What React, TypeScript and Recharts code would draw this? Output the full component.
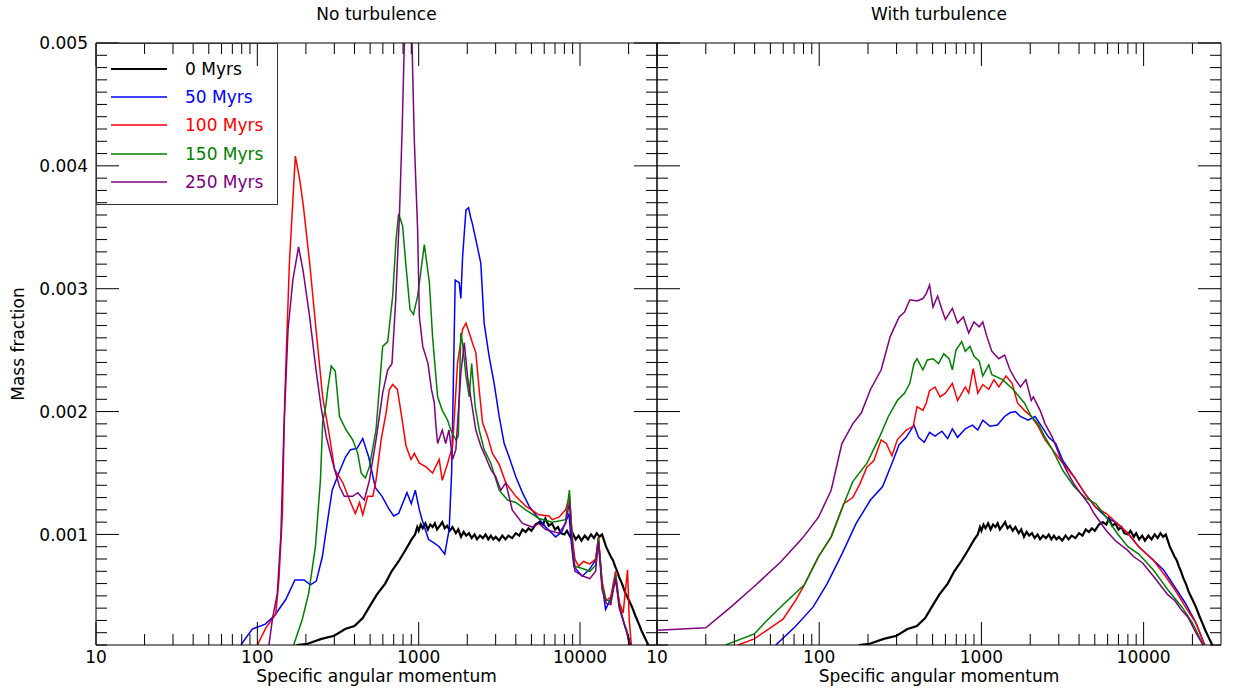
import React from 'react';
import { LineChart, Line, XAxis, YAxis, Legend } from 'recharts';

type Pt = [number, number];

// x = specific angular momentum, y = mass fraction in units of 1e-3
const black0: Pt[] = [
  [175, 0.10], [205, 0.11], [250, 0.15], [300, 0.175], [350, 0.23], [400, 0.255], [450, 0.32],
  [500, 0.42], [550, 0.51], [620, 0.60], [680, 0.70], [750, 0.78], [830, 0.875], [900, 0.955],
  [950, 1.0], [980, 1.06], [1000, 1.03], [1030, 1.08], [1060, 1.05], [1100, 1.09], [1140, 1.04],
  [1180, 1.08], [1220, 1.06], [1260, 1.09], [1300, 1.04], [1350, 1.07], [1400, 1.10], [1450, 1.05],
  [1500, 1.07], [1560, 1.03], [1620, 1.06], [1700, 1.01], [1760, 1.04], [1830, 0.98], [1900, 1.02],
  [1970, 0.99], [2050, 1.01], [2130, 0.97], [2220, 1.0], [2300, 0.96], [2400, 0.99], [2500, 0.97],
  [2600, 1.0], [2700, 0.96], [2800, 0.99], [2900, 0.96], [3000, 0.98], [3150, 0.95], [3300, 0.99],
  [3450, 0.96], [3600, 0.99], [3800, 0.97], [4000, 1.01], [4200, 0.99], [4400, 1.04], [4600, 1.02],
  [4800, 1.05], [5000, 1.03], [5300, 1.08], [5600, 1.10], [5900, 1.08], [6100, 1.13], [6400, 1.07],
  [6700, 1.09], [7000, 1.04], [7300, 1.06], [7600, 1.01], [8000, 1.0], [8300, 1.03], [8700, 0.98],
  [9000, 1.01], [9400, 0.96], [9800, 0.99], [10200, 0.95], [10700, 0.99], [11200, 0.96], [11700, 1.0],
  [12200, 0.97], [12700, 1.01], [13200, 0.98], [13700, 1.0], [14100, 0.95], [14500, 0.90], [15000, 0.86],
  [15500, 0.82], [16000, 0.79], [16500, 0.74], [17000, 0.70], [17500, 0.65], [18200, 0.60], [19000, 0.53],
  [20000, 0.47], [21000, 0.41], [22000, 0.34], [23000, 0.28], [24000, 0.22], [25000, 0.17], [26500, 0.10],
];

const noTurb50: Pt[] = [
  [79, 0.10], [93, 0.23], [112, 0.27], [128, 0.34], [150, 0.47], [171, 0.63], [195, 0.63], [213, 0.59],
  [232, 0.62], [253, 0.82], [271, 1.09], [291, 1.36], [320, 1.50], [352, 1.63], [378, 1.69], [415, 1.70],
  [450, 1.78], [490, 1.63], [539, 1.38], [593, 1.31], [652, 1.21], [700, 1.15], [751, 1.17], [846, 1.34],
  [900, 1.25], [953, 1.36], [1010, 1.20], [1050, 1.12], [1150, 0.96], [1250, 0.93], [1340, 0.90],
  [1450, 0.84], [1545, 1.04], [1600, 1.50], [1623, 1.91], [1684, 3.07], [1783, 3.05], [1825, 2.92],
  [1872, 3.26], [1963, 3.64], [2037, 3.66], [2100, 3.58], [2152, 3.53], [2311, 3.34], [2426, 3.21],
  [2545, 2.72], [2733, 2.45], [2936, 2.23], [3155, 1.96], [3388, 1.74], [3634, 1.63], [4000, 1.47],
  [4396, 1.34], [4833, 1.23], [5312, 1.16], [6125, 1.06], [7060, 0.98], [7700, 1.02], [8140, 1.10],
  [8540, 1.17], [8800, 0.95], [9160, 0.74], [10300, 0.66], [11350, 0.71], [12500, 0.79], [13000, 0.97],
  [13700, 0.60], [14400, 0.39], [15400, 0.47], [16600, 0.63], [17800, 0.39], [19000, 0.25],
  [19700, 0.19], [20700, 0.10],
];

const noTurb100: Pt[] = [
  [100, 0.10], [113, 0.24], [130, 0.35], [136, 0.63], [143, 1.17], [148, 2.12], [158, 3.21], [172, 4.08],
  [183, 3.89], [193, 3.67], [211, 3.21], [231, 2.67], [254, 2.12], [280, 1.80], [301, 1.53], [339, 1.42],
  [373, 1.28], [405, 1.17], [430, 1.26], [450, 1.16], [483, 1.31], [520, 1.31], [544, 1.44], [585, 1.77],
  [628, 1.99], [658, 2.18], [690, 2.22], [738, 2.18], [778, 1.99], [835, 1.72], [896, 1.61], [940, 1.66],
  [1010, 1.58], [1110, 1.55], [1219, 1.50], [1340, 1.61], [1400, 1.44], [1512, 1.58], [1623, 1.72],
  [1740, 2.39], [1872, 2.67], [1963, 2.72], [2058, 2.64], [2152, 2.56], [2260, 2.48], [2371, 2.18],
  [2487, 1.91], [2669, 1.80], [2865, 1.66], [3155, 1.57], [3467, 1.42], [4000, 1.31], [4612, 1.23],
  [5570, 1.16], [6430, 1.15], [6730, 1.12], [7400, 1.14], [8140, 1.20], [8600, 1.31], [9000, 0.95],
  [9300, 0.80], [9800, 0.74], [10500, 0.78], [11500, 0.76], [12500, 0.80], [13000, 0.98], [13700, 0.62],
  [14500, 0.46], [15500, 0.49], [16600, 0.70], [17500, 0.45], [18500, 0.36], [19700, 0.71],
  [20200, 0.30], [20800, 0.10],
];

const noTurb150: Pt[] = [
  [168, 0.10], [190, 0.31], [208, 0.52], [229, 0.90], [246, 1.44], [254, 1.91], [266, 2.05], [273, 2.18],
  [287, 2.37], [304, 2.33], [323, 1.96], [355, 1.85], [390, 1.77], [419, 1.66], [440, 1.50], [467, 1.46],
  [495, 1.55], [544, 1.85], [598, 2.53], [643, 2.57], [690, 2.94], [724, 3.40], [751, 3.61], [795, 3.51],
  [835, 3.18], [884, 2.83], [928, 2.79], [985, 2.94], [1084, 3.36], [1165, 3.05], [1219, 2.61],
  [1310, 2.12], [1400, 2.01], [1512, 1.93], [1580, 1.85], [1700, 1.77], [1760, 1.80], [1825, 2.64],
  [1870, 2.56], [1963, 2.29], [2058, 2.12], [2130, 2.39], [2240, 2.04], [2371, 1.85], [2545, 1.69],
  [2800, 1.58], [3155, 1.36], [3555, 1.28], [4000, 1.26], [4612, 1.20], [5570, 1.13], [6730, 1.10],
  [8140, 1.12], [8600, 1.36], [9000, 0.90], [9300, 0.74], [10500, 0.72], [11500, 0.70], [12500, 0.75],
  [13000, 0.97], [13700, 0.58], [14500, 0.47], [15500, 0.45], [16600, 0.67], [17500, 0.42],
  [18500, 0.30], [19500, 0.22], [20200, 0.10],
];

const noTurb250: Pt[] = [
  [118, 0.10], [124, 0.31], [133, 0.52], [140, 1.00], [146, 1.85], [155, 2.67], [166, 3.07], [180, 3.34],
  [192, 3.15], [211, 2.77], [231, 2.34], [248, 2.04], [267, 1.80], [294, 1.58], [323, 1.39], [346, 1.31],
  [390, 1.31], [419, 1.34], [460, 1.28], [495, 1.44], [544, 1.77], [598, 2.15], [643, 2.34], [683, 2.39],
  [720, 2.90], [760, 3.60], [790, 4.30], [815, 5.0], [860, 6.2], [909, 5.0], [940, 4.20], [985, 3.48],
  [1010, 2.77], [1060, 2.53], [1142, 2.39], [1200, 2.18], [1250, 2.07], [1280, 1.88], [1310, 1.74],
  [1400, 1.85], [1470, 1.74], [1540, 1.85], [1623, 1.61], [1700, 1.69], [1825, 2.31], [1917, 2.56],
  [2010, 2.28], [2100, 2.12], [2260, 1.85], [2426, 1.72], [2600, 1.63], [2800, 1.53], [3000, 1.47],
  [3230, 1.36], [3467, 1.42], [3800, 1.20], [4400, 1.09], [5060, 1.06], [5570, 1.09], [6125, 1.04],
  [7400, 1.01], [8140, 1.09], [8600, 1.26], [9000, 0.88], [9300, 0.70], [10500, 0.66], [11500, 0.64],
  [12500, 0.70], [13000, 0.94], [13700, 0.55], [14500, 0.44], [15500, 0.43], [16600, 0.65],
  [17500, 0.40], [18500, 0.30], [19500, 0.20], [20300, 0.10],
];

const turb50: Pt[] = [
  [54, 0.10], [71.3, 0.25], [91.8, 0.41], [112, 0.60], [138, 0.84], [169, 1.09], [207, 1.28], [246, 1.39],
  [281, 1.58], [311, 1.73], [344, 1.79], [384, 1.89], [410, 1.79], [444, 1.75], [479, 1.83], [517, 1.80],
  [571, 1.84], [620, 1.78], [662, 1.86], [713, 1.79], [795, 1.86], [880, 1.89], [950, 1.85], [1020, 1.93],
  [1130, 1.88], [1255, 1.89], [1390, 1.96], [1500, 1.99], [1620, 2.00], [1740, 1.96], [1940, 1.93],
  [2140, 1.96], [2350, 1.88], [2600, 1.79], [2870, 1.74], [3180, 1.60], [3720, 1.47], [4360, 1.33],
  [5080, 1.22], [5890, 1.14], [6860, 1.09], [8000, 1.01], [9330, 0.90], [11500, 0.79], [13300, 0.71],
  [15600, 0.57], [18100, 0.44], [21000, 0.28], [23800, 0.10],
];

const turb100: Pt[] = [
  [31.6, 0.10], [39.8, 0.15], [59.8, 0.31], [71.3, 0.46], [81, 0.59], [99, 0.82], [118.5, 0.98],
  [141.6, 1.25], [161, 1.30], [178, 1.41], [197, 1.55], [217, 1.60], [241, 1.77], [259, 1.74], [281, 1.64],
  [303, 1.77], [344, 1.85], [380, 1.88], [401, 2.04], [436, 2.01], [457, 2.07], [479, 2.17], [517, 2.20],
  [556, 2.12], [600, 2.15], [662, 2.23], [713, 2.09], [795, 2.20], [835, 2.15], [890, 2.35], [950, 2.15],
  [1020, 2.22], [1110, 2.18], [1195, 2.26], [1280, 2.20], [1420, 2.29], [1545, 2.23], [1670, 2.07],
  [1840, 2.01], [2030, 1.96], [2240, 1.88], [2470, 1.77], [2740, 1.69], [3180, 1.58], [3720, 1.47],
  [4360, 1.33], [5080, 1.22], [5890, 1.17], [6860, 1.09], [8000, 1.01], [9330, 0.90], [11500, 0.79],
  [13300, 0.68], [15600, 0.55], [18100, 0.41], [21000, 0.28], [23800, 0.10],
];

const turb150: Pt[] = [
  [26.5, 0.10], [39.8, 0.19], [47.6, 0.30], [61.2, 0.44], [81, 0.59], [99, 0.82], [118.5, 0.98],
  [145, 1.28], [161, 1.43], [197, 1.58], [235, 1.79], [267, 1.96], [303, 2.09], [336, 2.15], [362, 2.23],
  [384, 2.39], [401, 2.43], [436, 2.34], [464, 2.42], [503, 2.43], [544, 2.39], [586, 2.47], [632, 2.43],
  [662, 2.34], [697, 2.50], [756, 2.57], [795, 2.49], [850, 2.53], [900, 2.45], [970, 2.41], [1020, 2.29],
  [1110, 2.38], [1160, 2.30], [1350, 2.26], [1570, 2.18], [1840, 2.07], [2030, 1.96], [2240, 1.90],
  [2470, 1.79], [2740, 1.69], [3180, 1.52], [3720, 1.39], [4360, 1.30], [5080, 1.25], [5890, 1.14],
  [6860, 1.01], [8000, 0.90], [9330, 0.84], [11500, 0.71], [14100, 0.55], [17200, 0.41], [20000, 0.28],
  [23300, 0.10],
];

const turb250: Pt[] = [
  [10, 0.22], [20, 0.24], [28.6, 0.41], [40.8, 0.59], [58.2, 0.78], [78.9, 0.97], [99, 1.14], [118.5, 1.36],
  [138, 1.74], [161, 1.90], [182, 1.99], [207, 2.18], [241, 2.34], [274, 2.61], [311, 2.77], [336, 2.81],
  [362, 2.91], [401, 2.90], [436, 2.92], [457, 2.96], [479, 3.03], [503, 2.85], [537, 2.94], [571, 2.83],
  [600, 2.75], [662, 2.84], [713, 2.72], [774, 2.77], [835, 2.64], [900, 2.73], [970, 2.69], [1020, 2.73],
  [1075, 2.62], [1160, 2.49], [1280, 2.43], [1390, 2.46], [1500, 2.34], [1620, 2.26], [1740, 2.20],
  [1880, 2.26], [2030, 2.09], [2090, 2.12], [2300, 2.01], [2470, 1.90], [2740, 1.79], [3080, 1.62],
  [3350, 1.52], [3720, 1.41], [4110, 1.33], [4580, 1.25], [4950, 1.17], [5890, 1.03], [6680, 0.95],
  [7980, 0.87], [8650, 0.82], [9840, 0.77], [11500, 0.66], [12800, 0.58], [14100, 0.51], [15600, 0.46],
  [17200, 0.38], [18700, 0.33], [21000, 0.20], [23200, 0.10],
];

const seriesNames = ['0 Myrs', '50 Myrs', '100 Myrs', '150 Myrs', '250 Myrs'];
const seriesColors = ['#000000', '#0000ff', '#ff0000', '#008000', '#800080'];
const noTurbSeries = [black0, noTurb50, noTurb100, noTurb150, noTurb250];
const turbSeries = [black0, turb50, turb100, turb150, turb250];

const xDecades = [10, 100, 1000, 10000];
const xTicks: number[] = [];
xDecades.forEach((d) => {
  for (let m = 1; m <= 9; m++) if (d * m < 30000) xTicks.push(d * m);
});
const yTicks: number[] = [];
for (let i = 1; i <= 50; i++) yTicks.push(i / 10);

const FONT = '"DejaVu Sans", Verdana, sans-serif';
const FS = 17;
const MAJOR = 23;
const MINOR = 11;

const isMajorX = (v: number) => xDecades.includes(v);
const isMajorY = (v: number) => Math.round(v * 10) % 10 === 0;

const BottomTick = (props: any) => {
  const { x, y, payload } = props;
  const major = isMajorX(payload.value);
  return (
    <g>
      <line x1={x} x2={x} y1={y} y2={y - (major ? MAJOR : MINOR)} stroke="#000" />
      {major && (
        <text x={x} y={y + 18} textAnchor="middle" fontSize={FS} fill="#000">
          {payload.value}
        </text>
      )}
    </g>
  );
};

const TopTick = (props: any) => {
  const { x, y, payload } = props;
  const major = isMajorX(payload.value);
  return <line x1={x} x2={x} y1={y} y2={y + (major ? MAJOR : MINOR)} stroke="#000" />;
};

const LeftTick = (props: any) => {
  const { x, y, payload, showLabel } = props;
  const major = isMajorY(payload.value);
  return (
    <g>
      <line x1={x} x2={x + (major ? MAJOR : MINOR)} y1={y} y2={y} stroke="#000" />
      {major && showLabel && (
        <text x={x - 8} y={y} dy="0.36em" textAnchor="end" fontSize={FS} fill="#000">
          {(payload.value / 1000).toFixed(3)}
        </text>
      )}
    </g>
  );
};

const RightTick = (props: any) => {
  const { x, y, payload } = props;
  const major = isMajorY(payload.value);
  return <line x1={x} x2={x - (major ? MAJOR : MINOR)} y1={y} y2={y} stroke="#000" />;
};

const LegendBox = (props: any) => {
  const items = [...(props.payload || [])].sort(
    (a: any, b: any) => seriesNames.indexOf(a.value) - seriesNames.indexOf(b.value)
  );
  return (
    <div style={{ position: 'relative', width: 182, height: 162, border: '1px solid #333', boxSizing: 'border-box' }}>
      {items.map((it: any, i: number) => (
        <div key={it.value} style={{ position: 'absolute', left: 0, top: 24.7 + i * 28.3 - 14, height: 28, display: 'flex', alignItems: 'center' }}>
          <svg width={88} height={28} style={{ display: 'block' }}>
            <line x1={14} x2={70} y1={14} y2={14} stroke={it.color} strokeWidth={it.value === '0 Myrs' ? 2 : 1.5} />
          </svg>
          <span style={{ color: it.color, fontSize: FS, lineHeight: '28px', whiteSpace: 'nowrap' }}>{it.value}</span>
        </div>
      ))}
    </div>
  );
};

type PanelProps = {
  title: string;
  series: Pt[][];
  left: number;
  width: number;
  leftPad: number;
  rightPad: number;
  withLegend: boolean;
  withYLabels: boolean;
};

const Panel = ({ title, series, left, width, leftPad, rightPad, withLegend, withYLabels }: PanelProps) => (
  <div style={{ position: 'absolute', left, top: 0 }}>
    <LineChart width={width} height={692} margin={{ top: 0, right: 0, bottom: 0, left: 0 }}>
      <XAxis
        xAxisId="b"
        dataKey="x"
        type="number"
        scale="log"
        domain={[10, 30000]}
        allowDataOverflow
        ticks={xTicks}
        interval={0}
        tick={<BottomTick />}
        tickLine={false}
        tickSize={0}
        tickMargin={0}
        height={47}
        stroke="#000"
        label={{ value: 'Specific angular momentum', position: 'insideBottom', offset: 10, fontSize: FS, fill: '#000' }}
      />
      <XAxis
        xAxisId="t"
        orientation="top"
        dataKey="x"
        type="number"
        scale="log"
        domain={[10, 30000]}
        allowDataOverflow
        ticks={xTicks}
        interval={0}
        tick={<TopTick />}
        tickLine={false}
        tickSize={0}
        tickMargin={0}
        height={43}
        stroke="#000"
        label={{ value: title, position: 'insideTop', offset: 8, fontSize: FS, fill: '#000' }}
      />
      <YAxis
        yAxisId="l"
        type="number"
        domain={[0.1, 5]}
        allowDataOverflow
        ticks={yTicks}
        interval={0}
        tick={<LeftTick showLabel={withYLabels} />}
        tickLine={false}
        tickSize={0}
        tickMargin={0}
        width={leftPad}
        stroke="#000"
        label={
          withYLabels
            ? { value: 'Mass fraction', angle: -90, position: 'insideLeft', offset: 18, fontSize: FS, fill: '#000', style: { textAnchor: 'middle' } }
            : undefined
        }
      />
      <YAxis
        yAxisId="r"
        orientation="right"
        type="number"
        domain={[0.1, 5]}
        allowDataOverflow
        ticks={yTicks}
        interval={0}
        tick={<RightTick />}
        tickLine={false}
        tickSize={0}
        tickMargin={0}
        width={rightPad}
        stroke="#000"
      />
      {series.map((pts, i) => (
        <Line
          key={seriesNames[i]}
          xAxisId="b"
          yAxisId="l"
          data={pts.map(([x, y]) => ({ x, y }))}
          dataKey="y"
          name={seriesNames[i]}
          type="linear"
          stroke={seriesColors[i]}
          strokeWidth={i === 0 ? 2.2 : 1.5}
          dot={false}
          activeDot={false}
          isAnimationActive={false}
        />
      ))}
      {withLegend && (
        <Legend
          layout="horizontal"
          align="center"
          verticalAlign="middle"
          content={<LegendBox />}
          wrapperStyle={{ left: 96, top: 43, width: 182, height: 162 }}
        />
      )}
    </LineChart>
  </div>
);

export default function App() {
  return (
    <div style={{ position: 'absolute', left: 0, top: 0, width: 1233, height: 692, background: '#fff', fontFamily: FONT }}>
      <Panel title="No turbulence" series={noTurbSeries} left={0} width={700} leftPad={96} rightPad={43} withLegend withYLabels />
      <Panel title="With turbulence" series={turbSeries} left={600} width={633} leftPad={57} rightPad={12} withLegend={false} withYLabels={false} />
    </div>
  );
}
